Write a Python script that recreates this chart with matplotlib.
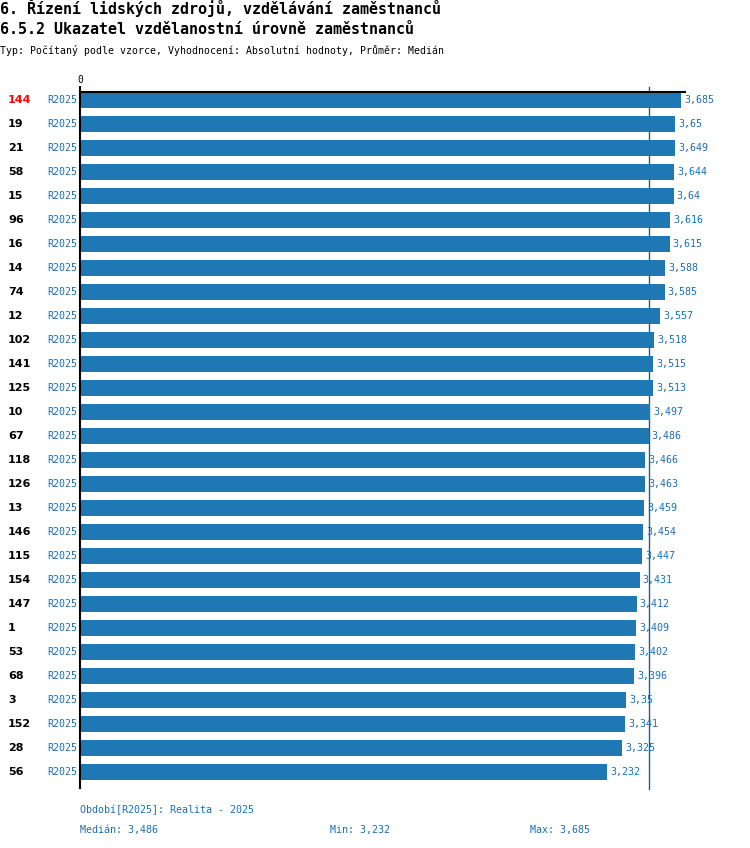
import matplotlib
matplotlib.use("Agg")
import matplotlib.pyplot as plt

categories = ["144", "19", "21", "58", "15", "96", "16", "14", "74", "12", "102", "141", "125", "10",
              "67", "118", "126", "13", "146", "115", "154", "147", "1", "53", "68", "3", "152", "28", "56"]
values = [3.685, 3.65, 3.649, 3.644, 3.64, 3.616, 3.615, 3.588, 3.585, 3.557, 3.518, 3.515, 3.513, 3.497,
          3.486, 3.466, 3.463, 3.459, 3.454, 3.447, 3.431, 3.412, 3.409, 3.402, 3.396, 3.35, 3.341, 3.325, 3.232]
period = "R2025"
highlight = "144"
median = 3.486
vmin = 3.232
vmax = 3.685

def fmt(v):
    s = ("%.3f" % v).rstrip("0").rstrip(".")
    return s.replace(".", ",")

BLUE = "#1f77b4"
TXT = "#1a6fb5"
MONO = "DejaVu Sans Mono"

W, H = 750, 848
fig = plt.figure(figsize=(W / 100, H / 100), dpi=100)

def fx(px):
    return px / W

def fy(py):
    return 1 - py / H

ax_left, ax_right, ax_top, ax_bot = 80, 685, 92, 788
ax = fig.add_axes([fx(ax_left), fy(ax_bot), fx(ax_right - ax_left), (ax_bot - ax_top) / H])

n = len(categories)
ypos = list(range(n))
ax.barh(ypos, values, height=0.67, color=BLUE, zorder=2)
ax.set_ylim(n - 1 + 16 / 24, -8 / 24)
xmax = 3.709
ax.set_xlim(0, xmax)

for s in ["right", "bottom"]:
    ax.spines[s].set_visible(False)
ax.spines["top"].set_linewidth(1.5)
ax.spines["left"].set_linewidth(1.5)
ax.spines["top"].set_zorder(3)
ax.spines["left"].set_zorder(3)
ax.set_yticks([])
ax.xaxis.tick_top()
ax.set_xticks([0])
ax.set_xticklabels(["0"], fontfamily=MONO, fontsize=7)
ax.tick_params(axis="x", length=4, width=1.5, pad=1)

# median line (behind bars)
ax.plot([median, median], [-13 / 24, n - 1 + 17 / 24], color="#1f5f8f", lw=1, clip_on=False, zorder=1)

px_per_unit = (ax_right - ax_left) / xmax
for i, (c, v) in enumerate(zip(categories, values)):
    ax.text(v + 3 / px_per_unit, i, fmt(v), va="center", ha="left", fontsize=7.2,
            fontfamily=MONO, color=TXT, zorder=4)
    ax.text(-3 / px_per_unit, i, period, va="center", ha="right", fontsize=7.2,
            fontfamily=MONO, color=TXT)
    ax.text(-72 / px_per_unit, i, c, va="center", ha="left", fontsize=8,
            fontweight="bold", fontfamily="DejaVu Sans",
            color="red" if c == highlight else "black")

fig.text(fx(0), fy(8), "6. Řízení lidských zdrojů, vzdělávání zaměstnanců", fontsize=10.8,
         fontweight="bold", fontfamily=MONO, va="center", ha="left")
fig.text(fx(0), fy(30), "6.5.2 Ukazatel vzdělanostní úrovně zaměstnanců", fontsize=10.8,
         fontweight="bold", fontfamily=MONO, va="center", ha="left")
fig.text(fx(0), fy(50), "Typ: Počítaný podle vzorce, Vyhodnocení: Absolutní hodnoty, Průměr: Medián",
         fontsize=7.1, fontfamily=MONO, va="center", ha="left")

fig.text(fx(80), fy(810), "Období[%s]: Realita - 2025" % period, fontsize=7.2, fontfamily=MONO,
         color=TXT, va="center", ha="left")
fig.text(fx(80), fy(830), "Medián: " + fmt(median), fontsize=7.2, fontfamily=MONO,
         color=TXT, va="center", ha="left")
fig.text(fx(330), fy(830), "Min: " + fmt(vmin), fontsize=7.2, fontfamily=MONO,
         color=TXT, va="center", ha="left")
fig.text(fx(530), fy(830), "Max: " + fmt(vmax), fontsize=7.2, fontfamily=MONO,
         color=TXT, va="center", ha="left")

fig.savefig("out.png", dpi=100)
